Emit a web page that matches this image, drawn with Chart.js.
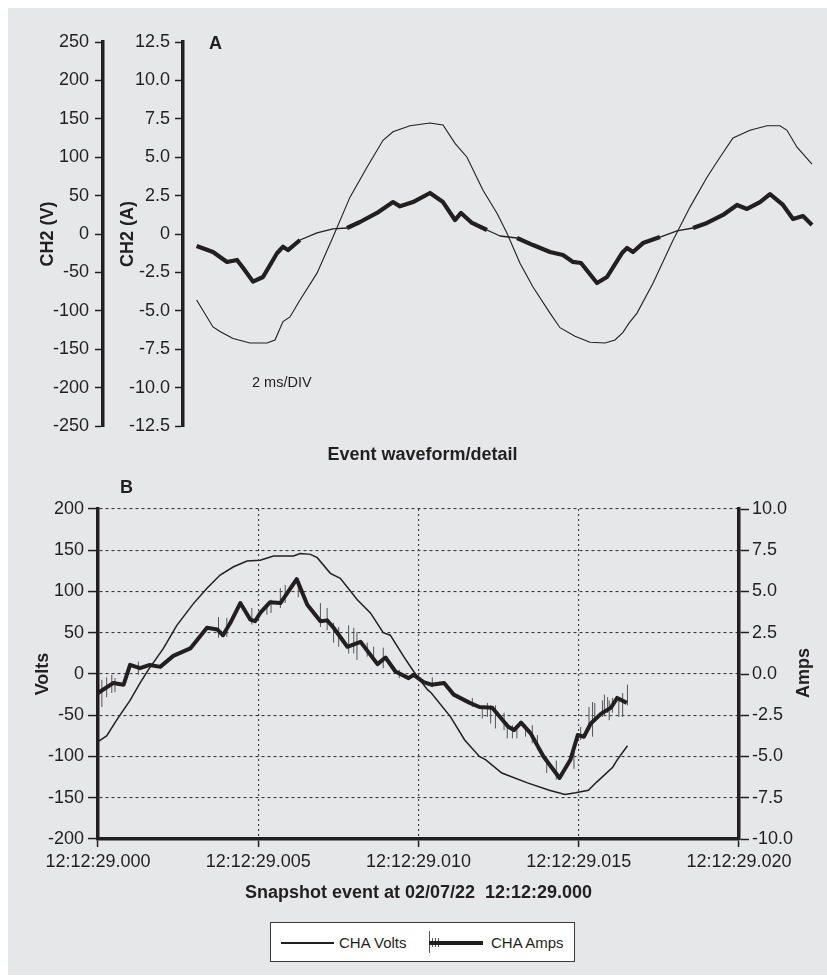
<!DOCTYPE html>
<html>
<head>
<meta charset="utf-8">
<script src="https://cdn.jsdelivr.net/npm/chart.js@4.4.1/dist/chart.umd.min.js"></script>
<style>
  body { margin: 0; background: #ffffff; }
  #page { position: relative; width: 827px; height: 976px; overflow: hidden; font-family: 'Liberation Sans', Arial, sans-serif; color: #231f20; }
  #bg { position: absolute; left: 8px; top: 8px; width: 819px; height: 967px; background: #e6e7e9; }
  .cw { position: absolute; left: 0; width: 827px; }
  .lbl { position: absolute; white-space: nowrap; line-height: 1; }
  #legend { position: absolute; left: 270px; top: 922px; width: 303px; height: 38px; background: #fff; border: 1.5px solid #3a3a3a; }
  #legend span { position: absolute; }
</style>
</head>
<body>
<div id="page">
  <div id="bg"></div>
  <div class="cw" style="top:20px;height:430px"><canvas id="chartA"></canvas></div>
  <div class="cw" style="top:440px;height:470px"><canvas id="chartB"></canvas></div>
  <div class="lbl" style="left:209px;top:34px;font-weight:bold;font-size:18px">A</div>
  <div class="lbl" style="left:252px;top:375px;font-size:14.5px">2 ms/DIV</div>
  <div class="lbl" style="left:120px;top:478px;font-weight:bold;font-size:18px">B</div>
  <div class="lbl" style="left:803px;top:673px;font-weight:bold;font-size:18px;transform:translate(-50%,-50%) rotate(-90deg)">Amps</div>
  <div id="legend">
    <span style="left:10px;top:19px;width:53px;height:2px;background:#231f20"></span>
    <span style="left:68px;top:12px;font-size:15px;line-height:1">CHA Volts</span>
    <span style="left:158px;top:8px;width:1px;height:22px;background:#555"></span>
    <span style="left:161px;top:15px;width:1px;height:9px;background:#555"></span>
    <span style="left:164px;top:15px;width:1px;height:9px;background:#555"></span>
    <span style="left:167px;top:15px;width:1px;height:9px;background:#555"></span>
    <span style="left:158px;top:18px;width:54px;height:3.5px;background:#231f20"></span>
    <span style="left:220px;top:12px;font-size:15px;line-height:1">CHA Amps</span>
  </div>
</div>
<script>
const INK = '#231f20';
const FONT = "'Liberation Sans', Arial, sans-serif";
Chart.defaults.font.family = FONT;
Chart.defaults.color = INK;

// ---- Panel A: scope capture (time in ms from left edge of trace area)
const scopeVoltT = [0.68, 1.5, 1.85, 2.5, 3.35, 4.2, 4.6, 5.0, 5.35, 5.85, 6.7, 7.5, 8.35, 9.2, 10.0, 10.5, 11.35, 12.35, 13.0, 13.6, 14.2, 15.0, 15.7, 16.2, 16.85, 17.5, 18.35, 18.85, 19.6, 20.35, 21.1, 21.6, 22.0, 22.3, 22.7, 23.5, 24.5, 25.35, 26.2, 26.85, 27.5, 28.35, 29.2, 29.85, 30.2, 30.7, 31.45];
const scopeVolt = [-86, -121, -127, -136, -142, -142, -138, -114, -108, -86, -51, -4, 48, 87, 122, 133, 141, 144.5, 142, 118, 100, 57, 27, 1, -38, -69, -103, -122, -133, -141, -142, -138, -128, -116, -103, -64, -8, 35, 74, 100, 125, 135, 141, 141, 135, 113, 91];
const scopeAmpT = [0.68, 1.5, 2.2, 2.7, 3.0, 3.5, 4.0, 4.7, 5.0, 5.25, 5.85, 6.7, 7.5, 8.2, 8.85, 9.7, 10.5, 10.85, 11.5, 12.35, 13.0, 13.6, 13.9, 14.45, 15.2, 15.85, 16.7, 17.5, 18.35, 19.0, 19.5, 19.9, 20.7, 21.2, 21.95, 22.2, 22.5, 23.0, 23.85, 24.7, 25.5, 26.2, 27.0, 27.7, 28.2, 28.85, 29.35, 30.0, 30.5, 31.0, 31.45];
const scopeAmp = [-0.78, -1.17, -1.82, -1.69, -2.2, -3.1, -2.8, -1.25, -0.83, -1.05, -0.39, 0.07, 0.33, 0.39, 0.78, 1.37, 2.08, 1.8, 2.08, 2.67, 2.08, 0.91, 1.37, 0.72, 0.26, -0.13, -0.26, -0.72, -1.17, -1.37, -1.82, -1.89, -3.19, -2.8, -1.24, -0.91, -1.17, -0.59, -0.2, 0.2, 0.39, 0.72, 1.24, 1.89, 1.63, 2.08, 2.6, 1.89, 0.98, 1.17, 0.59];

// ---- Panel B: event waveform detail (time in ms after 12:12:29.000)
const eventVoltT = [0, 0.27, 0.58, 1.0, 1.31, 1.57, 2.04, 2.46, 2.97, 3.4, 3.81, 4.23, 4.65, 5.06, 5.48, 6.1, 6.31, 6.63, 6.84, 7.25, 7.56, 8.09, 8.5, 8.9, 9.12, 9.54, 9.85, 10.28, 10.4, 11.0, 11.44, 11.9, 12.1, 12.6, 13.4, 14.08, 14.57, 14.9, 15.3, 15.56, 16.06, 16.2, 16.52];
const eventVolt = [-82, -75, -56, -32, -11, 5, 31, 59, 85, 104, 120, 130, 137, 138, 143, 143, 146, 145, 141, 122, 116, 90, 74, 50, 47, 21, 3, -19, -23, -52, -80, -100, -104, -120, -132, -141, -146, -144, -141, -131, -113, -104, -87];
const eventAmpT = [0, 0.47, 0.8, 1.0, 1.31, 1.62, 1.94, 2.35, 2.88, 3.4, 3.72, 3.9, 4.13, 4.44, 4.75, 4.9, 5.06, 5.37, 5.69, 6.2, 6.53, 6.94, 7.15, 7.35, 7.78, 8.19, 8.72, 8.97, 9.28, 9.69, 9.85, 10.16, 10.4, 10.8, 11.1, 11.6, 11.9, 12.3, 12.8, 12.98, 13.2, 13.5, 13.9, 14.4, 14.74, 14.97, 15.16, 15.375, 15.7, 16.0, 16.2, 16.5];
const eventAmp = [-1.15, -0.55, -0.65, 0.55, 0.35, 0.55, 0.43, 1.1, 1.55, 2.8, 2.7, 2.35, 3.1, 4.3, 3.3, 3.2, 3.7, 4.35, 4.3, 5.75, 4.2, 3.2, 3.25, 2.8, 1.65, 1.95, 0.6, 1.0, 0.15, -0.25, -0.05, -0.49, -0.65, -0.55, -1.25, -1.75, -2.0, -2.05, -3.2, -3.4, -2.95, -3.6, -5.0, -6.3, -5.2, -3.7, -3.8, -3.0, -2.4, -2.05, -1.45, -1.75];
// min/max excursions of the amps trace (vertical hash marks)
const spikeT = [0.12, 0.27, 0.43, 0.53, 1.26, 3.76, 4.02, 4.8, 5.27, 5.4, 5.69, 5.84, 6.25, 6.94, 7.15, 7.35, 7.51, 7.82, 7.98, 8.08, 8.4, 8.6, 8.9, 9.4, 10.43, 11.68, 11.99, 12.15, 12.25, 12.4, 12.67, 12.77, 12.93, 13.07, 13.34, 13.55, 13.71, 14.0, 14.3, 14.85, 15.06, 15.32, 15.43, 15.5, 15.74, 15.8, 15.9, 15.95, 16.05, 16.25, 16.37, 16.52];
const spikeLo = [-2.0, -1.4, -1.15, -1.1, -0.05, 2.2, 2.25, 3.0, 3.6, 3.7, 4.0, 4.3, 4.65, 2.85, 2.65, 1.9, 1.65, 1.25, 1.25, 0.85, 1.05, 0.85, 0.35, -0.25, -0.8, -2.0, -2.7, -2.6, -3.0, -3.3, -3.4, -3.9, -3.9, -3.9, -3.8, -4.2, -4.6, -6.0, -6.4, -5.75, -4.0, -3.4, -3.8, -2.8, -2.6, -2.5, -2.35, -2.8, -2.35, -2.6, -2.6, -1.9];
const spikeHi = [-0.35, -0.2, -0.05, -0.25, 0.75, 3.45, 3.4, 4.0, 4.2, 4.5, 5.2, 5.4, 5.7, 4.3, 4.0, 3.1, 2.85, 2.95, 2.8, 2.55, 1.9, 1.65, 1.6, 0.25, -0.2, -1.45, -2.0, -1.75, -1.9, -1.9, -2.35, -2.95, -3.1, -3.2, -3.2, -3.1, -3.7, -5.0, -5.25, -4.75, -3.2, -2.0, -1.7, -1.75, -1.6, -1.25, -1.4, -1.6, -1.45, -1.4, -1.15, -0.65];
const timeTickLabels = ['12:12:29.000', '12:12:29.005', '12:12:29.010', '12:12:29.015', '12:12:29.020'];

const pts = (xs, ys) => xs.map((x, i) => ({ x, y: ys[i] }));
const spikePts = [];
spikeT.forEach((t, i) => {
    spikePts.push({ x: t, y: spikeLo[i] }, { x: t, y: spikeHi[i] }, { x: t, y: null });
});

const tickFont = { size: 18 };
const titleFont = { size: 18, weight: 'bold' };

// Panel A
new Chart(document.getElementById('chartA'), {
    type: 'line',
    data: {
        datasets: [{
            data: pts(scopeAmpT, scopeAmp),
            yAxisID: 'yA',
            borderColor: INK,
            borderJoinStyle: 'round',
            segment: {
                borderWidth: ctx => Math.max(Math.abs(ctx.p0.parsed.y), Math.abs(ctx.p1.parsed.y)) < 0.5 ? 1.3 : 4.2
            },
            borderWidth: 4.2,
            pointRadius: 0
        }, {
            data: pts(scopeVoltT, scopeVolt),
            yAxisID: 'yV',
            borderColor: INK,
            borderWidth: 1.1,
            pointRadius: 0
        }]
    },
    options: {
        responsive: true,
        maintainAspectRatio: false,
        animation: false,
        layout: { padding: { left: 33, right: 4, top: 22, bottom: 24 } },
        plugins: { legend: { display: false }, tooltip: { enabled: false } },
        scales: {
            x: { type: 'linear', min: 0, max: 32, display: false },
            yV: {
                position: 'left',
                weight: 2,
                min: -250, max: 250,
                ticks: { stepSize: 50, font: tickFont, padding: 6, color: INK },
                grid: { drawOnChartArea: false, tickLength: 8, tickWidth: 1.5, tickColor: INK },
                border: { width: 3.5, color: INK },
                title: { display: true, text: 'CH2 (V)', font: titleFont, color: INK, padding: { top: 4, bottom: 0 } },
                afterFit: s => { s.width = 70; }
            },
            yA: {
                position: 'left',
                weight: 1,
                min: -12.5, max: 12.5,
                ticks: {
                    stepSize: 2.5, font: tickFont, padding: 5, color: INK,
                    callback: v => v === 0 ? '0' : v.toFixed(1)
                },
                grid: { drawOnChartArea: false, tickLength: 8, tickWidth: 1.5, tickColor: INK },
                border: { width: 3.5, color: INK },
                title: { display: true, text: 'CH2 (A)', font: titleFont, color: INK, padding: { top: 14, bottom: 0 } },
                afterFit: s => { s.width = 80; }
            }
        }
    }
});

// Panel B
new Chart(document.getElementById('chartB'), {
    type: 'line',
    data: {
        datasets: [{
            label: 'CHA Amps',
            data: pts(eventAmpT, eventAmp),
            yAxisID: 'yA',
            borderColor: INK,
            borderWidth: 4,
            borderJoinStyle: 'round',
            pointRadius: 0,
            order: 0
        }, {
            label: 'CHA Volts',
            data: pts(eventVoltT, eventVolt),
            yAxisID: 'yV',
            borderColor: INK,
            borderWidth: 1.5,
            pointRadius: 0,
            order: 1
        }, {
            label: 'spikes',
            data: spikePts,
            yAxisID: 'yA',
            borderColor: '#555',
            borderWidth: 1,
            spanGaps: false,
            pointRadius: 0,
            order: 2
        }]
    },
    options: {
        responsive: true,
        maintainAspectRatio: false,
        animation: false,
        layout: { padding: { left: 30, right: 12, top: 0, bottom: 0 } },
        plugins: {
            legend: { display: false },
            tooltip: { enabled: false },
            title: {
                display: true,
                text: 'Event waveform/detail',
                font: titleFont,
                color: INK,
                padding: { top: 4, bottom: 43.4 }
            }
        },
        scales: {
            x: {
                type: 'linear', min: 0, max: 20,
                ticks: {
                    stepSize: 5, font: tickFont, padding: 4, color: INK, maxRotation: 0,
                    callback: v => timeTickLabels[Math.round(v / 5)]
                },
                grid: { color: '#3a3a3a', lineWidth: 1.1, tickLength: 8, tickWidth: 1.5, tickColor: INK },
                border: { width: 3.5, color: INK, dash: [2, 3] },
                title: { display: true, text: 'Snapshot event at 02/07/22  12:12:29.000', font: titleFont, color: INK, padding: { top: 0, bottom: 6 } },
                afterFit: s => { s.height = 71; }
            },
            yV: {
                position: 'left',
                min: -200, max: 200,
                ticks: { stepSize: 50, font: tickFont, padding: 4, color: INK },
                grid: { color: '#3a3a3a', lineWidth: 1.1, tickLength: 10, tickWidth: 1.5, tickColor: INK },
                border: { width: 3.5, color: INK, dash: [3, 3] },
                title: { display: true, text: 'Volts', font: titleFont, color: INK, padding: { top: 2, bottom: 0 } },
                afterFit: s => { s.width = 68; }
            },
            yA: {
                position: 'right',
                min: -10, max: 10,
                ticks: { stepSize: 2.5, font: tickFont, padding: 3, color: INK, callback: v => v.toFixed(1) },
                grid: { drawOnChartArea: false, tickLength: 10, tickWidth: 1.5, tickColor: INK },
                border: { width: 3.5, color: INK },
                title: { display: false },
                afterFit: s => { s.width = 76; }
            }
        }
    }
});
</script>
</body>
</html>
